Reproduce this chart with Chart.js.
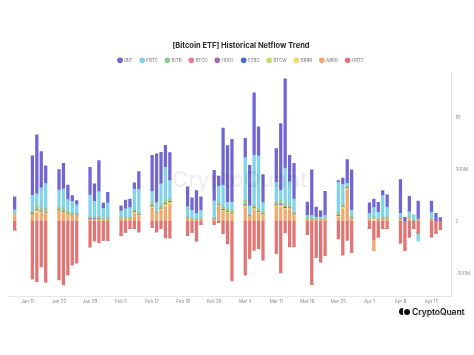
<!DOCTYPE html>
<html><head><meta charset="utf-8">
<script src="https://cdn.jsdelivr.net/npm/chart.js@4.4.1/dist/chart.umd.min.js"></script>
<style>
html,body{margin:0;padding:0;background:#fff;}
#wrap{position:relative;width:474px;height:355px;overflow:hidden;background:#fff;}
canvas{position:absolute;left:0;top:0;}
#wm{position:absolute;left:172px;top:166px;font:500 22px Inter,"Liberation Sans",sans-serif;color:rgba(0,0,0,0.07);white-space:nowrap;pointer-events:none;}
#logo{position:absolute;left:399px;top:300px;white-space:nowrap;font-family:Inter,"Liberation Sans",sans-serif;}
#logo .ic{display:inline-block;vertical-align:middle;width:4px;height:7px;background:#111;border-radius:4px 0 0 4px;margin-right:1px;}
#logo .ic2{display:inline-block;vertical-align:middle;width:6px;height:6px;background:#111;border-radius:50%;margin-right:2px;}
#logo .t{display:inline-block;vertical-align:middle;font-size:8.6px;font-weight:600;color:#111;letter-spacing:-0.1px;}
#logo .s{position:absolute;left:20px;top:12px;font-size:3px;color:#999;}
</style></head><body>
<div id="wrap">
<canvas id="c" width="474" height="355"></canvas>
<div id="wm">CryptoQuant</div>
<div id="logo"><span class="ic"></span><span class="ic2"></span><span class="t">CryptoQuant</span><div class="s">Crypto on-chain data &amp; analytics</div></div>
</div>
<script>
// Axis range (calendar days shown)
const axisStart = '2024-01-11';
const axisEnd = '2024-04-19';

// Trading days with recorded flows
const dates = [
 '2024-01-12','2024-01-16','2024-01-17','2024-01-18','2024-01-19','2024-01-22','2024-01-23','2024-01-24','2024-01-25','2024-01-26',
 '2024-01-29','2024-01-30','2024-01-31','2024-02-01','2024-02-02',
 '2024-02-05','2024-02-06','2024-02-07','2024-02-08','2024-02-09',
 '2024-02-12','2024-02-13','2024-02-14','2024-02-15','2024-02-16',
 '2024-02-20','2024-02-21','2024-02-22','2024-02-23',
 '2024-02-26','2024-02-27','2024-02-28','2024-02-29','2024-03-01',
 '2024-03-04','2024-03-05','2024-03-06','2024-03-07','2024-03-08',
 '2024-03-11','2024-03-12','2024-03-13','2024-03-14','2024-03-15',
 '2024-03-18','2024-03-19','2024-03-20','2024-03-21','2024-03-22',
 '2024-03-25','2024-03-26','2024-03-27','2024-03-28',
 '2024-04-01','2024-04-02','2024-04-03','2024-04-04','2024-04-05',
 '2024-04-08','2024-04-09','2024-04-10','2024-04-11','2024-04-12',
 '2024-04-15','2024-04-16','2024-04-17'
];

// Netflow per fund (million USD)
const IBIT = [125,380,570,350,170,195,245,140,55,38, 265,170,298,50,102, 48,85,80,62,170, 345,468,302,210,270, 190,120,222,128, 292,95,548,548,605, 185,392,600,280,270, 325,642,860,255,345, 128,438,95,58,232, 15,62,230,388, 102,80,95,48,118, 325,38,150,0,170, 105,75,35];
const FBTC = [40,148,112,190,238,160,185,112,112,85, 212,152,238,90,142, 62,80,95,190,222, 112,80,208,318,175, 95,80,50,80, 160,160,208,62,75, 412,80,478,510,95, 190,95,350,222,128, 25,25,15,15,25, 288,190,25,62, 48,95,62,208,95, 38,0,48,45,-78, 62,0,0];
const BITB = [0,22,38,32,38,32,32,20,20,15, 15,15,20,15,15, 15,15,15,25,20, 25,20,25,30,25, 15,10,10,10, 15,20,25,25,30, 38,15,25,25,15, 25,38,25,25,15, 12,15,10,10,12, 32,20,15,15, 10,12,10,15,15, 15,0,15,15,10, 10,0,0];
const BTCO = [0,5,5,4,3,3,3,2,2,2, 2,2,2,0,0, 0,0,0,3,2, 5,3,3,4,4, 0,0,0,0, 2,3,4,3,3, 5,2,4,3,2, 3,4,4,3,2, 0,0,0,0,0, 3,2,2,0, 0,0,0,0,0, 0,0,0,0,0, 0,0,0];
const HODL = [0,3,3,3,2,2,2,2,2,2, 2,2,2,2,2, 2,2,2,3,3, 4,3,3,4,4, 2,2,2,2, 3,3,4,4,4, 5,3,5,4,3, 4,5,5,4,3, 2,2,2,2,2, 3,3,3,2, 2,2,2,2,2, 2,0,2,2,2, 2,0,0];
const EZBC = [0,3,3,2,2,2,2,2,2,2, 2,2,2,0,0, 0,0,0,2,2, 3,2,2,3,3, 0,0,0,0, 2,2,3,2,2, 4,2,3,3,2, 3,3,3,3,2, 0,0,0,0,0, 2,2,2,0, 0,0,0,0,0, 0,0,0,0,0, 0,0,0];
const BTCW = [0,2,2,2,2,2,2,2,2,2, 0,0,0,0,0, 0,0,0,2,2, 3,2,2,3,3, 0,0,0,0, 2,2,2,2,2, 3,2,2,2,2, 2,3,3,2,2, 0,0,0,0,0, 2,2,2,0, 0,0,0,0,0, 0,0,0,0,0, 0,0,0];
const BRRR = [0,5,25,8,6,6,6,5,4,4, 3,3,3,2,2, 2,2,2,8,6, 12,8,10,20,20, 3,2,2,2, 3,8,10,8,8, 15,5,12,8,6, 12,20,12,10,6, 2,2,2,2,2, 8,20,15,3, 2,25,2,3,3, 3,0,3,0,2, 2,0,0];
const ARKB = [70,62,75,80,72,95,80,64,48,48, 18,15,18,15,15, 20,20,20,75,50, 125,62,108,138,158, 25,12,10,12, 10,142,92,75,60, 130,38,108,75,55, 135,130,110,110,55, 15,12,12,12,15, 38,115,300,25, 12,-105,12,20,20, 18,0,22,0,10, 12,0,0];
const GBTC = [-83,-558,-583,-440,-588,-566,-614,-519,-422,-404, -250,-190,-210,-185,-185, -138,-105,-72,-72,-105, -62,-105,-72,-160,-162, -138,-105,-190,-32, -32,-15,-120,-218,-575, -520,-360,-280,-265,-375, -312,-498,-112,-248,-248, -130,-608,-345,-392,-328, -170,-328,-185,-298, -72,-175,-152,-72,-72, -208,-280,-152,-72,-115, -152,-115,-82];

// Legend order
const seriesNames = ['IBIT','FBTC','BITB','BTCO','HODL','EZBC','BTCW','BRRR','ARKB','GBTC'];
const seriesValues = [IBIT,FBTC,BITB,BTCO,HODL,EZBC,BTCW,BRRR,ARKB,GBTC];
const seriesColors = ['#7164d4','#80d3e8','#93c98c','#e47a94','#a46ab8','#4a6cc6','#c9da6a','#f1d66e','#f1a86e','#e37474'];

// Y tick values
const yTicks = [-500, 0, 500, 1000];

// ---- build calendar axis ----
const months = ['Jan','Feb','Mar','Apr','May','Jun','Jul','Aug','Sep','Oct','Nov','Dec'];
const calendar = [];
for (let t = Date.parse(axisStart + 'T00:00:00Z'); t <= Date.parse(axisEnd + 'T00:00:00Z'); t += 86400000) {
  calendar.push(new Date(t).toISOString().slice(0,10));
}
function expand(arr) {
  return calendar.map(d => { const i = dates.indexOf(d); return i < 0 ? null : arr[i]; });
}

Chart.defaults.font.family = 'Inter, "Liberation Sans", sans-serif';

const datasets = seriesNames.map((n, i) => ({
  label: n,
  data: expand(seriesValues[i]),
  backgroundColor: seriesColors[i],
  borderWidth: 0,
  barThickness: 2.6,
  order: n === 'GBTC' ? 0 : 9 - i
}));

new Chart(document.getElementById('c'), {
  type: 'bar',
  data: { labels: calendar, datasets },
  options: {
    responsive: false,
    animation: false,
    devicePixelRatio: 1,
    layout: { padding: { top: 41.5, bottom: 47.6, left: 8, right: 0 } },
    plugins: {
      title: { display: true, text: '[Bitcoin ETF] Historical Netflow Trend', color: '#2a2a2a',
               font: { size: 7.5, weight: 'bold' }, padding: { top: 0, bottom: 0 } },
      legend: { display: true, position: 'top',
        labels: { usePointStyle: true, pointStyle: 'circle', boxWidth: 4, boxHeight: 4, padding: 7.6,
                  color: '#777', font: { size: 4.5 },
                  sort: (a, b) => a.datasetIndex - b.datasetIndex } },
      tooltip: { enabled: false }
    },
    scales: {
      x: {
        stacked: true,
        grid: { display: false, drawTicks: false },
        border: { display: true, color: '#e6e6e6' },
        ticks: {
          autoSkip: false, maxRotation: 0, minRotation: 0, padding: 3,
          color: '#8a8a8a', font: { size: 4.5 },
          callback: function (v) {
            const s = this.getLabelForValue(v);
            const d = new Date(s + 'T00:00:00Z');
            return d.getUTCDay() === 1 ? months[d.getUTCMonth()] + ' ' + d.getUTCDate() : '';
          }
        }
      },
      y: {
        stacked: true, position: 'right', min: -720, max: 1431,
        grid: { display: false, drawTicks: false },
        border: { display: true, color: '#e6e6e6' },
        afterBuildTicks: s => { s.ticks = yTicks.map(v => ({ value: v })); },
        ticks: {
          padding: 4, color: '#8a8a8a', font: { size: 4.5 },
          callback: v => v === 0 ? '0' : (Math.abs(v) >= 1000 ? (v / 1000) + 'B' : v + 'M')
        }
      }
    }
  }
});
</script>
</body></html>
